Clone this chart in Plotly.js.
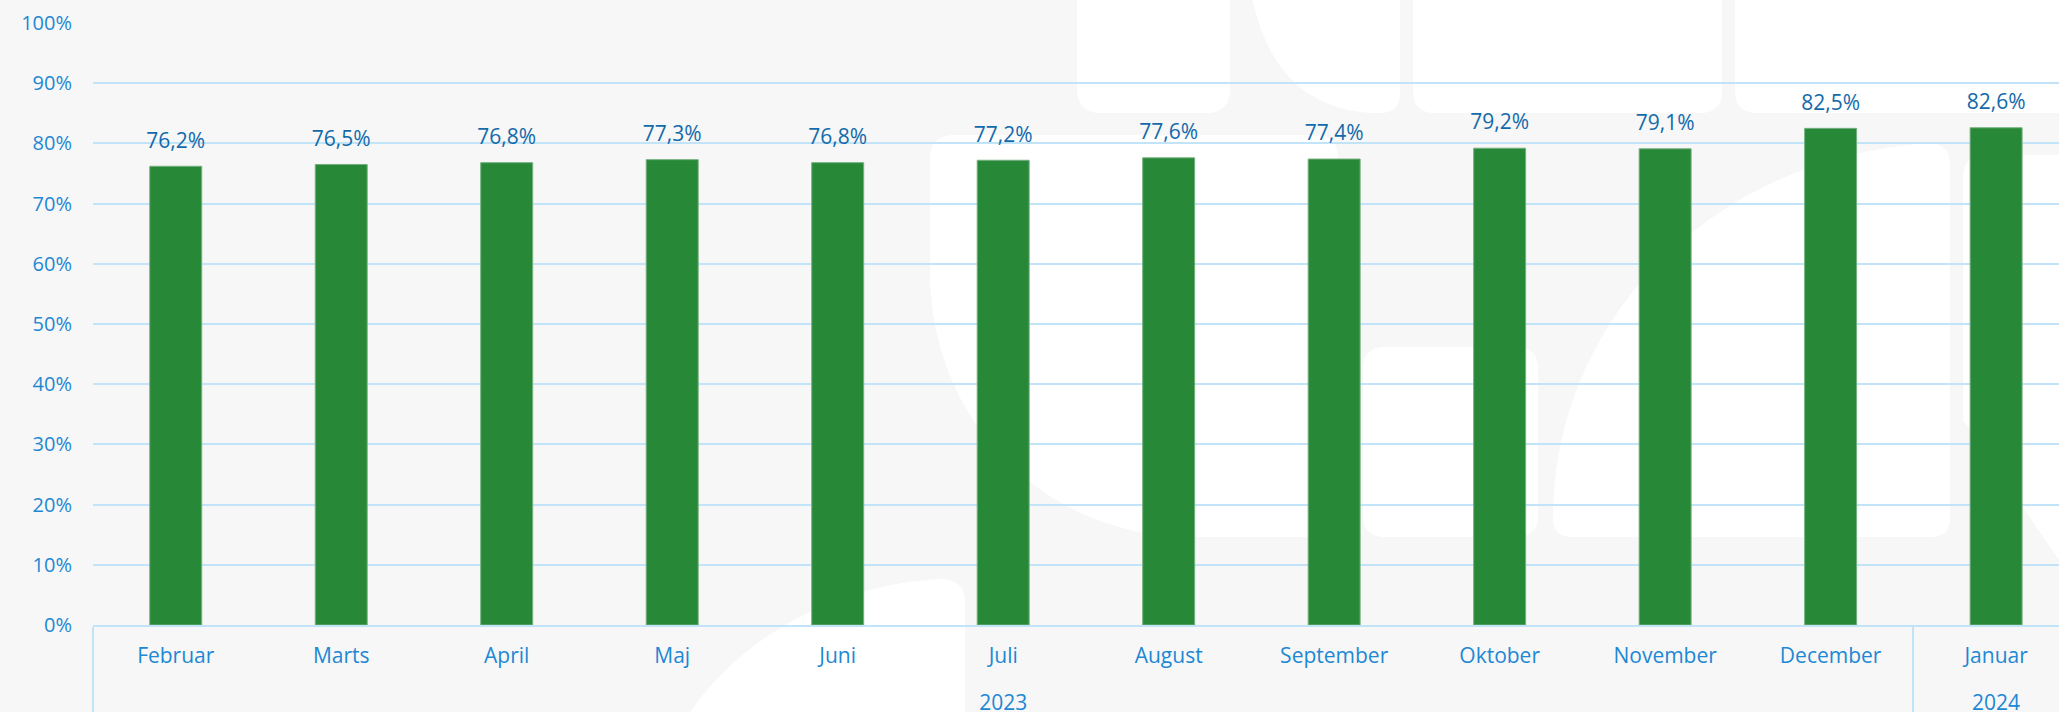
<!DOCTYPE html>
<html>
<head>
<meta charset="utf-8">
<script src="https://cdn.plot.ly/plotly-3.0.1.min.js"></script>
<style>
html,body{margin:0;padding:0;background:#f7f7f7;}
#chart{width:2059px;height:712px;}
</style>
</head>
<body>
<div id="chart"></div>
<script>
// ---- data ----
const years = ['2023','2023','2023','2023','2023','2023','2023','2023','2023','2023','2023','2024'];
const months = ['Februar','Marts','April','Maj','Juni','Juli','August','September','Oktober','November','December','Januar'];
const values = [76.2, 76.5, 76.8, 77.3, 76.8, 77.2, 77.6, 77.4, 79.2, 79.1, 82.5, 82.6];
const labels = values.map(v => v.toFixed(1).replace('.', ',') + '%');
// year labels are pushed one line lower, as in the reference
const yearLabels = years.map(y => '<br>' + y);

// ---- layout geometry ----
const W = 2059, H = 712;
const M = {l: 93, r: 0, t: 23, b: 87};
const PW = W - M.l - M.r, PH = H - M.t - M.b;
const px = X => ((X - M.l) / PW).toFixed(4);
const py = Y => ((H - M.b - Y) / PH).toFixed(4);
// build a path from pixel commands (decorative watermark)
function path(cmds) {
  return cmds.map(c => {
    const op = c[0];
    const pts = [];
    for (let i = 1; i < c.length; i += 2) pts.push(px(c[i]) + ',' + py(c[i + 1]));
    return op + pts.join(' ');
  }).join(' ') + ' Z';
}
function rrect(x0, y0, x1, y1, r) {
  return path([
    ['M', x0 + r, y0], ['L', x1 - r, y0], ['Q', x1, y0, x1, y0 + r], ['L', x1, y1 - r],
    ['Q', x1, y1, x1 - r, y1], ['L', x0 + r, y1], ['Q', x0, y1, x0, y1 - r], ['L', x0, y0 + r],
    ['Q', x0, y0, x0 + r, y0]
  ]);
}
const wm = {type: 'path', xref: 'paper', yref: 'paper', layer: 'below', fillcolor: '#ffffff', line: {width: 0}};
const shapes = [
  Object.assign({}, wm, {path: rrect(1077, -40, 1230, 113, 24)}),
  Object.assign({}, wm, {path: path([['M', 1247, -40], ['L', 1400, -40], ['L', 1400, 93], ['Q', 1400, 113, 1380, 113], ['L', 1374, 113], ['C', 1300, 110, 1255, 60, 1247, -40]])}),
  Object.assign({}, wm, {path: rrect(1413, -40, 1722, 113, 22)}),
  Object.assign({}, wm, {path: rrect(1735, -40, 2100, 113, 22)}),
  Object.assign({}, wm, {path: path([['M', 955, 135], ['L', 1315, 135], ['Q', 1338, 135, 1338, 158], ['L', 1338, 537], ['L', 1180, 537], ['C', 1040, 530, 930, 420, 930, 270], ['L', 930, 158], ['Q', 930, 135, 955, 135]])}),
  Object.assign({}, wm, {path: rrect(1363, 347, 1538, 537, 22)}),
  Object.assign({}, wm, {path: path([['M', 1553, 518], ['C', 1553, 330, 1700, 160, 1928, 143], ['Q', 1950, 143, 1950, 165], ['L', 1950, 518], ['Q', 1950, 537, 1931, 537], ['L', 1572, 537], ['Q', 1553, 537, 1553, 518]])}),
  Object.assign({}, wm, {path: path([['M', 1985, 155], ['L', 2100, 155], ['L', 2100, 620], ['L', 1963, 420], ['L', 1963, 177], ['Q', 1963, 155, 1985, 155]])}),
  Object.assign({}, wm, {path: path([['M', 690, 712], ['C', 740, 640, 830, 585, 940, 579], ['Q', 965, 579, 965, 602], ['L', 965, 712]])})
];

const font = '"Open Sans", "Noto Sans", sans-serif';
const gridColor = '#c2e4f8';

const bars = {
  type: 'bar',
  x: [yearLabels, months],
  y: values,
  marker: {color: '#278837', line: {color: '#74b07f', width: 1}},
  hoverinfo: 'skip'
};
const txt = {
  type: 'scatter',
  mode: 'markers+text',
  x: [yearLabels, months],
  y: values,
  text: labels,
  textposition: 'top center',
  textfont: {family: font, size: 21, color: '#136aab'},
  marker: {size: 20, color: 'rgba(0,0,0,0)'},
  cliponaxis: false,
  hoverinfo: 'skip'
};

const layout = {
  width: W, height: H,
  margin: M,
  paper_bgcolor: '#f7f7f7',
  plot_bgcolor: 'rgba(0,0,0,0)',
  showlegend: false,
  bargap: 0.686,
  font: {family: font, size: 20, color: '#1d88d4'},
  xaxis: {
    type: 'multicategory',
    range: [-0.5, 11.38],
    showline: true, linecolor: gridColor, linewidth: 2,
    showgrid: false,
    ticks: '',
    ticklabelstandoff: 11,
    showdividers: true, dividercolor: gridColor, dividerwidth: 2,
    tickfont: {family: font, size: 21, color: '#1d88d4'},
    fixedrange: true
  },
  yaxis: {
    range: [0, 100],
    dtick: 10,
    ticksuffix: '%',
    showgrid: true, gridcolor: gridColor, gridwidth: 2,
    zeroline: false,
    showline: false,
    ticks: '',
    ticklabelstandoff: 20,
    tickfont: {family: font, size: 20, color: '#1d88d4'},
    fixedrange: true
  },
  shapes: shapes
};

Plotly.newPlot('chart', [bars, txt], layout, {displayModeBar: false, staticPlot: true});
</script>
</body>
</html>
